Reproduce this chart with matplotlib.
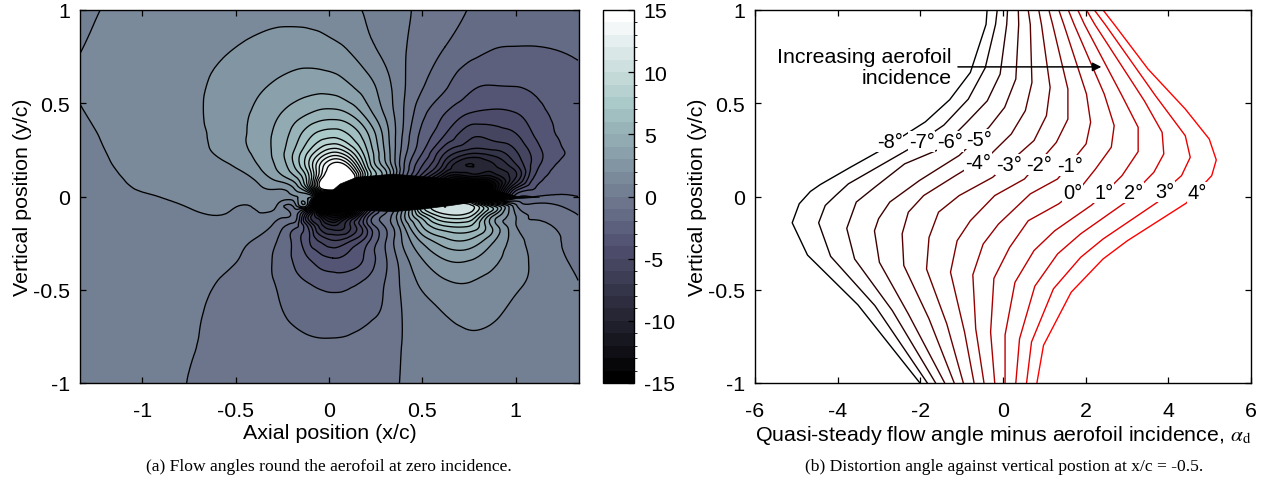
import matplotlib

matplotlib.use("Agg")

import matplotlib.pyplot as plt
import matplotlib.tri as mtri
import numpy as np
from matplotlib.cm import ScalarMappable
from matplotlib.colors import BoundaryNorm

plt.rcParams["font.family"] = ["Liberation Sans", "DejaVu Sans"]
plt.rcParams["mathtext.fontset"] = "stix"
plt.rcParams["axes.unicode_minus"] = False

W, H = 1270, 485
TEXT_SIZE = 15.4

# flow angle (deg), on a grid that tightens near the aerofoil
grid_x = [-1.335, -1.0, -0.75, -0.55, -0.4, -0.28, -0.18, -0.1, -0.05, 0.02, 0.1,
          0.2, 0.3, 0.4, 0.5, 0.62, 0.75, 0.88, 1.0, 1.1, 1.335]
grid_y = [1, 0.8, 0.6, 0.45, 0.33, 0.24, 0.16, 0.1, 0.05, 0, -0.05, -0.1, -0.16,
          -0.24, -0.33, -0.45, -0.6, -0.8, -1]
flow_angle = [
    [0.9, 1.2, 1.4, 1.6, 1.7, 1.75, 1.75, 1.7, 1.65, 1.55, 1.3, 0.9, 0.5, 0.15, -0.2, -0.6, -1.03, -1.35, -1.5, -1.6, -1.6],
    [0.98, 1.35, 1.65, 1.92, 2.17, 2.34, 2.4, 2.38, 2.33, 2.19, 1.93, 1.3, 0.72, 0.1, -0.45, -1.0, -1.55, -1.95, -2.02, -2.02, -1.85],
    [1.05, 1.4, 1.75, 2.32, 2.77, 3.12, 3.43, 3.57, 3.58, 3.48, 3.09, 2.41, 1.4, 0.12, -0.9, -1.8, -2.75, -2.98, -2.95, -2.8, -2.3],
    [0.97, 1.27, 1.7, 2.52, 3.1, 3.82, 4.5, 4.97, 5.23, 5.32, 4.95, 3.55, 1.85, 0.0, -1.7, -2.95, -3.95, -4.2, -4.0, -3.4, -2.6],
    [0.9, 1.22, 1.65, 2.46, 3.27, 4.26, 5.54, 6.82, 7.38, 7.67, 7.1, 5.3, 2.6, -0.2, -2.3, -4.0, -5.7, -5.6, -5.1, -3.95, -2.75],
    [0.85, 1.17, 1.55, 2.35, 3.17, 4.36, 6.24, 8.3, 9.63, 10.85, 9.7, 6.24, 2.9, -0.5, -2.9, -5.8, -7.5, -7.3, -6.1, -4.6, -2.8],
    [0.8, 1.12, 1.4, 1.85, 2.75, 4.1, 6.15, 9.33, 12.1, 14.65, 14.0, 7.5, 3.6, -0.9, -4.1, -7.7, -10.0, -9.3, -7.4, -4.5, -2.75],
    [0.77, 1.07, 1.28, 1.6, 2.1, 3.4, 4.8, 8.5, 13.0, 17.0, 17.0, 8.0, 4.0, -1.5, -6.0, -11.0, -12.0, -11.5, -8.0, -3.9, -2.6],
    [0.72, 1.03, 1.2, 1.42, 1.75, 2.2, 3.4, 8.0, 14.0, 17.0, 15.0, 5.0, 1.5, -1.5, -7.0, -11.0, -14.0, -14.0, -5.5, -3.1, -2.3],
    [0.68, 0.97, 1.13, 1.28, 1.42, 1.55, 1.9, 2.3, 2.5, 1.5, 1.0, 1.5, 1.0, 0.5, 0.5, 3.0, 2.0, -7.0, -2.5, -2.03, -2.0],
    [0.62, 0.9, 1.03, 1.12, 1.08, 0.97, 0.7, -1.0, -14.0, -14.0, -14.0, -6.0, -1.0, 2.0, 8.0, 11.0, 10.5, 5.0, 0.3, -0.7, -1.5],
    [0.55, 0.8, 0.9, 0.98, 0.88, 0.45, -0.6, -6.5, -10.0, -13.0, -11.0, -4.0, -0.85, 2.7, 7.0, 9.7, 9.5, 4.2, 1.0, -0.1, -1.0],
    [0.45, 0.65, 0.75, 0.8, 0.6, -0.4, -1.7, -4.8, -7.25, -8.8, -7.5, -3.7, -0.95, 1.9, 5.0, 6.9, 7.0, 3.7, 1.1, 0.25, -0.7],
    [0.35, 0.5, 0.6, 0.55, -0.1, -1.0, -2.42, -4.1, -5.06, -5.85, -5.24, -3.4, -1.1, 1.2, 3.2, 4.6, 4.8, 3.1, 1.5, 0.65, -0.4],
    [0.25, 0.38, 0.45, 0.3, -0.45, -1.2, -2.22, -3.12, -3.65, -4.0, -3.8, -2.77, -1.15, 0.65, 2.05, 3.1, 3.2, 2.3, 1.5, 0.8, -0.22],
    [0.18, 0.25, 0.3, -0.15, -0.6, -1.1, -1.77, -2.13, -2.36, -2.51, -2.41, -1.9, -1.0, 0.3, 1.25, 1.95, 2.05, 1.72, 1.25, 0.8, 0.0],
    [0.13, 0.17, 0.15, -0.3, -0.6, -0.9, -1.28, -1.47, -1.54, -1.58, -1.51, -1.26, -0.85, 0.1, 0.68, 1.12, 1.45, 1.25, 0.8, 0.5, 0.13],
    [0.12, 0.12, 0.05, -0.25, -0.45, -0.6, -0.75, -0.85, -0.88, -0.88, -0.85, -0.7, -0.4, 0.05, 0.35, 0.55, 0.75, 0.7, 0.55, 0.42, 0.22],
    [0.15, 0.1, -0.01, -0.2, -0.35, -0.45, -0.5, -0.55, -0.55, -0.55, -0.5, -0.4, -0.2, 0.05, 0.2, 0.35, 0.4, 0.45, 0.4, 0.35, 0.25],
]

aerofoil_x = [-0.048, -0.01, 0.06, 0.148, 0.345, 0.649, 0.827, 1.006, 1.13, 0.827, 0.649, 0.506, 0.345, 0.113, 0.005]
aerofoil_y = [-0.003, 0.008, 0.067, 0.103, 0.12, 0.094, 0.049, 0.001, -0.004, -0.022, -0.049, -0.067, -0.081, -0.072, -0.049]

# distortion angle traverses at x/c = -0.5, one per incidence
incidence = [-8, -7, -6, -5, -4, -3, -2, -1, 0, 1, 2, 3, 4]
traverse_x = [
    [-0.385, -0.41, -0.79, -1.29, -1.88, -2.47, -2.97, -3.69, -4.42, -4.66, -4.93, -5.10, -4.73, -3.51, -2.01],
    [-0.14, -0.18, -0.43, -0.84, -1.43, -2.27, -3.74, -4.05, -4.30, -4.46, -4.17, -3.10, -1.83],
    [0.11, 0.09, -0.07, -0.38, -0.88, -1.52, -2.38, -3.10, -3.55, -3.78, -3.59, -2.68, -1.63],
    [0.37, 0.38, 0.31, 0.04, -0.34, -1.06, -2.02, -2.74, -3.01, -3.11, -2.99, -2.29, -1.41],
    [0.61, 0.66, 0.70, 0.54, 0.20, -0.29, -1.15, -1.92, -2.29, -2.44, -2.40, -1.79, -1.18],
    [0.865, 0.93, 1.14, 1.05, 0.75, -0.25, -1.06, -1.56, -1.79, -1.85, -1.36, -0.96],
    [1.11, 1.20, 1.57, 1.57, 1.29, 0.52, -0.20, -0.79, -1.11, -1.27, -0.93, -0.70],
    [1.35, 1.47, 2.02, 2.12, 2.01, 1.32, 0.66, -0.11, -0.48, -0.73, -0.66, -0.46],
    [1.58, 1.72, 2.45, 2.69, 2.62, 2.24, 1.92, 1.35, 0.61, 0.16, -0.22, -0.30, -0.20],
    [1.81, 1.97, 2.88, 3.27, 3.27, 2.88, 2.56, 2.15, 1.25, 0.75, 0.29, 0.05, 0.05],
    [2.02, 2.22, 3.42, 3.85, 3.89, 3.65, 3.26, 2.97, 1.88, 1.32, 0.77, 0.40, 0.31],
    [2.21, 2.47, 3.69, 4.41, 4.53, 4.32, 3.96, 3.74, 2.42, 1.88, 1.22, 0.69, 0.57],
    [2.42, 2.69, 3.51, 4.41, 4.99, 5.16, 5.05, 4.79, 4.43, 3.01, 2.42, 1.65, 0.98, 0.82],
]
traverse_y = [
    [1, 0.923, 0.665, 0.519, 0.40, 0.317, 0.246, 0.157, 0.064, 0.027, -0.039, -0.141, -0.314, -0.581, -1],
    [1, 0.923, 0.69, 0.522, 0.383, 0.255, 0.068, 0.005, -0.048, -0.141, -0.321, -0.585, -1],
    [1, 0.923, 0.656, 0.513, 0.397, 0.255, 0.175, 0.05, -0.03, -0.171, -0.335, -0.611, -1],
    [1, 0.923, 0.63, 0.478, 0.371, 0.22, 0.086, -0.03, -0.119, -0.184, -0.353, -0.63, -1],
    [1, 0.923, 0.611, 0.46, 0.335, 0.228, 0.112, 0.005, -0.084, -0.2, -0.37, -0.656, -1],
    [1, 0.923, 0.585, 0.433, 0.30, 0.103, 0.005, -0.084, -0.22, -0.389, -0.683, -1],
    [1, 0.923, 0.576, 0.415, 0.29, 0.094, 0.005, -0.13, -0.237, -0.406, -0.727, -1],
    [1, 0.923, 0.549, 0.398, 0.282, 0.094, 0.014, -0.148, -0.255, -0.42, -0.709, -1],
    [1, 0.923, 0.549, 0.38, 0.264, 0.148, 0.059, -0.039, -0.13, -0.273, -0.439, -0.727, -1],
    [1, 0.923, 0.54, 0.371, 0.241, 0.112, 0.041, -0.045, -0.184, -0.29, -0.46, -0.742, -1],
    [1, 0.923, 0.513, 0.344, 0.228, 0.13, 0.041, -0.03, -0.2, -0.308, -0.481, -0.763, -1],
    [1, 0.923, 0.54, 0.326, 0.21, 0.112, 0.041, -0.03, -0.228, -0.326, -0.495, -0.78, -1],
    [1, 0.923, 0.683, 0.469, 0.308, 0.196, 0.112, 0.05, -0.036, -0.237, -0.335, -0.513, -0.798, -1],
]
label_x = [-2.74, -1.97, -1.27, -0.59, -0.61, 0.14, 0.865, 1.63, 1.68, 2.44, 3.15, 3.92, 4.71]
label_y = [0.296, 0.296, 0.296, 0.308, 0.184, 0.171, 0.171, 0.166, 0.023, 0.023, 0.023, 0.027, 0.023]

y_ticks = [-1, -0.5, 0, 0.5, 1]
y_tick_labels = ["-1", "-0.5", "0", "0.5", "1"]
left_x_ticks = [-1, -0.5, 0, 0.5, 1]
right_x_ticks = [-6, -4, -2, 0, 2, 4, 6]
bar_ticks = [-15, -10, -5, 0, 5, 10, 15]


def axes_px(fig, left, top, right, bottom):
    """Add axes placed by pixel edges, measured from the top left."""

    return fig.add_axes([left / W, 1 - bottom / H, (right - left) / W, (bottom - top) / H])


def style_box(ax):
    ax.tick_params(direction="in", top=True, right=True, length=4, width=0.9, labelsize=TEXT_SIZE)
    ax.tick_params(axis="x", pad=13)
    ax.tick_params(axis="y", pad=7)
    for spine in ax.spines.values():
        spine.set_linewidth(1.0)


def draw_field(fig):
    ax = axes_px(fig, 80, 11, 579, 384)
    levels = np.arange(-15, 16, 1)
    cmap = plt.get_cmap("bone").with_extremes(over="white", under="black")
    norm = BoundaryNorm(levels, 256)

    # smooth the read table with the library's refiner so contours are not polygonal
    gx, gy = np.meshgrid(grid_x, grid_y)
    angle = np.array(flow_angle).ravel()
    tri = mtri.Triangulation(gx.ravel(), gy.ravel())
    smooth = mtri.CubicTriInterpolator(tri, angle, kind="min_E")
    fine_tri, fine_angle = mtri.UniformTriRefiner(tri).refine_field(angle, triinterpolator=smooth, subdiv=3)

    ax.tricontourf(fine_tri, fine_angle, levels=levels, cmap=cmap, norm=norm, extend="both")
    ax.tricontour(fine_tri, fine_angle, levels=np.arange(-14, 15, 1), colors="black",
                  linewidths=0.95, linestyles="solid")
    ax.fill(aerofoil_x, aerofoil_y, color="black", lw=0.5)
    ax.set_xlim(-1.335, 1.34)
    ax.set_ylim(-1, 1)
    ax.set_xticks(left_x_ticks, ["-1", "-0.5", "0", "0.5", "1"])
    ax.set_yticks(y_ticks, y_tick_labels)
    ax.set_xlabel("Axial position (x/c)", fontsize=TEXT_SIZE, labelpad=2)
    ax.set_ylabel("Vertical position (y/c)", fontsize=TEXT_SIZE, labelpad=1)
    style_box(ax)

    cax = axes_px(fig, 603, 11, 634, 384)
    bar = fig.colorbar(ScalarMappable(norm=norm, cmap=plt.get_cmap("bone")), cax=cax,
                       spacing="proportional", extend="neither")
    bar.set_ticks(bar_ticks, labels=[str(t) for t in bar_ticks])
    bar.ax.tick_params(direction="in", length=4, width=0.9, labelsize=TEXT_SIZE, pad=7)
    bar.outline.set_linewidth(1.0)


def draw_traverses(fig):
    ax = axes_px(fig, 755, 11, 1251, 384)
    for i, (xs, ys) in enumerate(zip(traverse_x, traverse_y)):
        ax.plot(xs, ys, color=(i / 12, 0, 0), lw=1.0)
    for inc, lx, ly in zip(incidence, label_x, label_y):
        ax.text(lx, ly, f"{inc}\N{DEGREE SIGN}", fontsize=TEXT_SIZE - 1, ha="center", va="center",
                bbox=dict(fc="white", ec="none", pad=0.6))
    ax.annotate("", xy=(2.38, 0.695), xytext=(-1.09, 0.695),
                arrowprops=dict(arrowstyle="-|>", color="black", lw=1.1, shrinkA=0, shrinkB=0,
                                mutation_scale=13))
    ax.text(-1.25, 0.695, "Increasing aerofoil\nincidence", fontsize=TEXT_SIZE, ha="right",
            va="center", linespacing=1.1, multialignment="right")
    ax.set_xlim(-6, 6)
    ax.set_ylim(-1, 1)
    ax.set_xticks(right_x_ticks, [str(t) for t in right_x_ticks])
    ax.set_yticks(y_ticks, y_tick_labels)
    ax.set_xlabel(r"Quasi-steady flow angle minus aerofoil incidence, $\alpha_{\mathrm{d}}$",
                  fontsize=TEXT_SIZE, labelpad=2)
    ax.set_ylabel("Vertical position (y/c)", fontsize=TEXT_SIZE, labelpad=1)
    style_box(ax)


fig = plt.figure(figsize=(W / 100, H / 100), dpi=100)
draw_field(fig)
draw_traverses(fig)
fig.text(329 / W, 1 - 467 / H, "(a) Flow angles round the aerofoil at zero incidence.",
         family="Liberation Serif", fontsize=12.6, ha="center", va="center")
fig.text(1004 / W, 1 - 467 / H, "(b) Distortion angle against vertical postion at x/c = -0.5.",
         family="Liberation Serif", fontsize=12.6, ha="center", va="center")
fig.savefig("out.png", dpi=100)
